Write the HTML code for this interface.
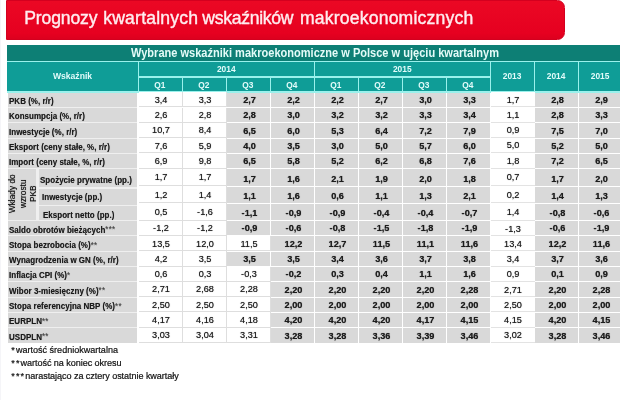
<!DOCTYPE html>
<html lang="pl"><head><meta charset="utf-8"><title>Prognozy kwartalnych wskaźników makroekonomicznych</title>
<style>
html,body{margin:0;padding:0;background:#fff}
body{width:620px;height:400px;position:relative;overflow:hidden;filter:blur(0.5px);font-family:"Liberation Sans",sans-serif;color:#1a1a1a}
div{position:absolute;box-sizing:border-box;white-space:nowrap}
.edge{left:0;top:0;width:1px;height:400px;background:#f5f5f8}
.banner{left:6px;top:-0.5px;width:559px;height:40px;background:linear-gradient(#eb0824,#e60020 85%,#dc001e);border-radius:0 7.5px 7.5px 0;border:1px solid #d4001f}
.title span{position:absolute;top:0;white-space:pre}
.title{left:24px;top:7.1px;font-size:17.6px;line-height:22px;color:#ffecef;letter-spacing:0.05px;-webkit-text-stroke:0.4px #ffecef}
.tt{left:7px;top:45px;width:613px;height:16px;background:#0d7f75}
.ttx{left:131px;top:45.9px;font-size:11.9px;line-height:15px;font-weight:bold;color:#e4fbf8;transform:scaleX(0.9285);transform-origin:0 50%}
.hb{left:7px;top:61px;width:613px;height:31.5px;background:#9af1ec}
.lb{left:7.5px;top:92.7px;width:129.5px;height:250px;background:#efefef}
.h{background:#0f9d97}
.t{line-height:12px;height:12px}
.ht{color:#e2fbfa;font-weight:bold;font-size:8.4px;text-align:center}
.l{background:#d9d9d9}
.lt{font-size:8.5px;letter-spacing:0.02px;transform:scaleX(0.94);transform-origin:0 50%;font-weight:bold;text-shadow:0 0 0.7px rgba(0,0,0,0.5)}
.lt b{font-weight:bold}
.lt i{font-style:normal;font-size:8.5px;position:relative;top:-0.3px;font-weight:normal;color:#4a4a4a;letter-spacing:0.3px}
.c{text-align:center;font-size:9.6px;transform:scaleX(0.955);color:#1c1c1c;text-shadow:0 0 0.8px rgba(0,0,0,0.7)}
.b{font-weight:bold}
.g{background:#d9d9d9}
.w{background:#fff;box-shadow:inset -1px -1px 0 #dedede}
.y{background:#fff;box-shadow:inset 0 -1px 0 #e3e3e3}
.fn{left:11.2px;font-size:9.05px;line-height:12px;color:#111;-webkit-text-stroke:0.2px #111}
.fn i{font-style:normal;display:inline-block;width:4.7px}
.rot{font-size:8.3px;line-height:10.5px;text-shadow:0 0 0.8px rgba(0,0,0,0.7);text-align:center;transform:rotate(-90deg);transform-origin:center center;white-space:normal;color:#151515}
</style></head><body>
<div class="edge"></div>
<div class="banner"></div>
<div class="title"><span style="left:0.3px;letter-spacing:-0.16px">Prognozy </span><span style="left:79.2px;letter-spacing:0.2px">kwartalnych </span><span style="left:178.3px;letter-spacing:-0.3px">wskaźników </span><span style="left:276px;letter-spacing:0.18px">makroekonomicznych</span></div>
<div class="tt"></div>
<div class="ttx">Wybrane wskaźniki makroekonomiczne w Polsce w ujęciu kwartalnym</div>
<div class="hb"></div>
<div class="lb"></div>

<div class="h" style="left:7.00px;top:61.80px;width:131.00px;height:29.60px"></div>
<div class="t ht" style="left:7.00px;top:70.02px;width:131.00px;font-size:8.6px">Wskaźnik</div>
<div class="h" style="left:139.00px;top:61.80px;width:175.00px;height:14.70px"></div>
<div class="t ht" style="left:138.50px;top:63.39px;width:175.50px;">2014</div>
<div class="h" style="left:315.00px;top:61.80px;width:175.00px;height:14.70px"></div>
<div class="t ht" style="left:314.50px;top:63.39px;width:175.50px;">2015</div>
<div class="h" style="left:139.00px;top:77.50px;width:43.00px;height:13.90px"></div>
<div class="t ht" style="left:138.00px;top:78.69px;width:43.50px;">Q1</div>
<div class="h" style="left:183.00px;top:77.50px;width:43.00px;height:13.90px"></div>
<div class="t ht" style="left:182.00px;top:78.69px;width:43.50px;">Q2</div>
<div class="h" style="left:227.00px;top:77.50px;width:43.00px;height:13.90px"></div>
<div class="t ht" style="left:226.00px;top:78.69px;width:43.50px;">Q3</div>
<div class="h" style="left:271.00px;top:77.50px;width:43.00px;height:13.90px"></div>
<div class="t ht" style="left:270.00px;top:78.69px;width:43.50px;">Q4</div>
<div class="h" style="left:315.00px;top:77.50px;width:43.00px;height:13.90px"></div>
<div class="t ht" style="left:314.00px;top:78.69px;width:43.50px;">Q1</div>
<div class="h" style="left:359.00px;top:77.50px;width:43.00px;height:13.90px"></div>
<div class="t ht" style="left:358.00px;top:78.69px;width:43.50px;">Q2</div>
<div class="h" style="left:403.00px;top:77.50px;width:43.00px;height:13.90px"></div>
<div class="t ht" style="left:402.00px;top:78.69px;width:43.50px;">Q3</div>
<div class="h" style="left:447.00px;top:77.50px;width:43.00px;height:13.90px"></div>
<div class="t ht" style="left:446.00px;top:78.69px;width:43.50px;">Q4</div>
<div class="h" style="left:491.00px;top:61.80px;width:43.00px;height:29.60px"></div>
<div class="t ht" style="left:490.30px;top:70.49px;width:43.50px;">2013</div>
<div class="h" style="left:535.00px;top:61.80px;width:43.00px;height:29.60px"></div>
<div class="t ht" style="left:534.30px;top:70.49px;width:43.50px;">2014</div>
<div class="h" style="left:579.00px;top:61.80px;width:43.00px;height:29.60px"></div>
<div class="t ht" style="left:578.30px;top:70.49px;width:43.50px;">2015</div>
<div class="l" style="left:7.50px;top:92.70px;width:129.50px;height:14.30px"></div>
<div class="t lt" style="left:8.60px;top:95.05px;width:128.00px;"><b>PKB</b> (%, r/r)</div>
<div class="w" style="left:139.00px;top:92.20px;width:44.00px;height:15.30px"></div>
<div class="t c" style="left:139.00px;top:93.72px;width:44.00px;">3,4</div>
<div class="w" style="left:183.00px;top:92.20px;width:44.00px;height:15.30px"></div>
<div class="t c" style="left:183.00px;top:93.72px;width:44.00px;">3,3</div>
<div class="g" style="left:227.00px;top:92.70px;width:43.00px;height:14.30px"></div>
<div class="t c b" style="left:227.70px;top:93.97px;width:43.00px;">2,7</div>
<div class="g" style="left:271.00px;top:92.70px;width:43.00px;height:14.30px"></div>
<div class="t c b" style="left:271.70px;top:93.97px;width:43.00px;">2,2</div>
<div class="g" style="left:315.00px;top:92.70px;width:43.00px;height:14.30px"></div>
<div class="t c b" style="left:315.70px;top:93.97px;width:43.00px;">2,2</div>
<div class="g" style="left:359.00px;top:92.70px;width:43.00px;height:14.30px"></div>
<div class="t c b" style="left:359.70px;top:93.97px;width:43.00px;">2,7</div>
<div class="g" style="left:403.00px;top:92.70px;width:43.00px;height:14.30px"></div>
<div class="t c b" style="left:403.70px;top:93.97px;width:43.00px;">3,0</div>
<div class="g" style="left:447.00px;top:92.70px;width:43.00px;height:14.30px"></div>
<div class="t c b" style="left:447.70px;top:93.97px;width:43.00px;">3,3</div>
<div class="y" style="left:490.70px;top:92.20px;width:44.30px;height:15.30px"></div>
<div class="t c" style="left:491.00px;top:93.52px;width:44.00px;">1,7</div>
<div class="g" style="left:535.00px;top:92.70px;width:43.00px;height:14.30px"></div>
<div class="t c b" style="left:535.70px;top:93.97px;width:43.00px;">2,8</div>
<div class="g" style="left:579.00px;top:92.70px;width:43.00px;height:14.30px"></div>
<div class="t c b" style="left:579.70px;top:93.97px;width:43.00px;">2,9</div>
<div class="l" style="left:7.50px;top:108.00px;width:129.50px;height:14.30px"></div>
<div class="t lt" style="left:8.60px;top:110.35px;width:128.00px;"><b>Konsumpcja</b> (%, r/r)</div>
<div class="w" style="left:139.00px;top:107.50px;width:44.00px;height:15.30px"></div>
<div class="t c" style="left:139.00px;top:109.02px;width:44.00px;">2,6</div>
<div class="w" style="left:183.00px;top:107.50px;width:44.00px;height:15.30px"></div>
<div class="t c" style="left:183.00px;top:109.02px;width:44.00px;">2,8</div>
<div class="g" style="left:227.00px;top:108.00px;width:43.00px;height:14.30px"></div>
<div class="t c b" style="left:227.70px;top:109.27px;width:43.00px;">2,8</div>
<div class="g" style="left:271.00px;top:108.00px;width:43.00px;height:14.30px"></div>
<div class="t c b" style="left:271.70px;top:109.27px;width:43.00px;">3,0</div>
<div class="g" style="left:315.00px;top:108.00px;width:43.00px;height:14.30px"></div>
<div class="t c b" style="left:315.70px;top:109.27px;width:43.00px;">3,2</div>
<div class="g" style="left:359.00px;top:108.00px;width:43.00px;height:14.30px"></div>
<div class="t c b" style="left:359.70px;top:109.27px;width:43.00px;">3,2</div>
<div class="g" style="left:403.00px;top:108.00px;width:43.00px;height:14.30px"></div>
<div class="t c b" style="left:403.70px;top:109.27px;width:43.00px;">3,3</div>
<div class="g" style="left:447.00px;top:108.00px;width:43.00px;height:14.30px"></div>
<div class="t c b" style="left:447.70px;top:109.27px;width:43.00px;">3,4</div>
<div class="y" style="left:490.70px;top:107.50px;width:44.30px;height:15.30px"></div>
<div class="t c" style="left:491.00px;top:108.82px;width:44.00px;">1,1</div>
<div class="g" style="left:535.00px;top:108.00px;width:43.00px;height:14.30px"></div>
<div class="t c b" style="left:535.70px;top:109.27px;width:43.00px;">2,8</div>
<div class="g" style="left:579.00px;top:108.00px;width:43.00px;height:14.30px"></div>
<div class="t c b" style="left:579.70px;top:109.27px;width:43.00px;">3,3</div>
<div class="l" style="left:7.50px;top:123.30px;width:129.50px;height:14.30px"></div>
<div class="t lt" style="left:8.60px;top:125.65px;width:128.00px;"><b>Inwestycje</b> (%, r/r)</div>
<div class="w" style="left:139.00px;top:122.80px;width:44.00px;height:15.30px"></div>
<div class="t c" style="left:139.00px;top:124.32px;width:44.00px;">10,7</div>
<div class="w" style="left:183.00px;top:122.80px;width:44.00px;height:15.30px"></div>
<div class="t c" style="left:183.00px;top:124.32px;width:44.00px;">8,4</div>
<div class="g" style="left:227.00px;top:123.30px;width:43.00px;height:14.30px"></div>
<div class="t c b" style="left:227.70px;top:124.57px;width:43.00px;">6,5</div>
<div class="g" style="left:271.00px;top:123.30px;width:43.00px;height:14.30px"></div>
<div class="t c b" style="left:271.70px;top:124.57px;width:43.00px;">6,0</div>
<div class="g" style="left:315.00px;top:123.30px;width:43.00px;height:14.30px"></div>
<div class="t c b" style="left:315.70px;top:124.57px;width:43.00px;">5,3</div>
<div class="g" style="left:359.00px;top:123.30px;width:43.00px;height:14.30px"></div>
<div class="t c b" style="left:359.70px;top:124.57px;width:43.00px;">6,4</div>
<div class="g" style="left:403.00px;top:123.30px;width:43.00px;height:14.30px"></div>
<div class="t c b" style="left:403.70px;top:124.57px;width:43.00px;">7,2</div>
<div class="g" style="left:447.00px;top:123.30px;width:43.00px;height:14.30px"></div>
<div class="t c b" style="left:447.70px;top:124.57px;width:43.00px;">7,9</div>
<div class="y" style="left:490.70px;top:122.80px;width:44.30px;height:15.30px"></div>
<div class="t c" style="left:491.00px;top:124.12px;width:44.00px;">0,9</div>
<div class="g" style="left:535.00px;top:123.30px;width:43.00px;height:14.30px"></div>
<div class="t c b" style="left:535.70px;top:124.57px;width:43.00px;">7,5</div>
<div class="g" style="left:579.00px;top:123.30px;width:43.00px;height:14.30px"></div>
<div class="t c b" style="left:579.70px;top:124.57px;width:43.00px;">7,0</div>
<div class="l" style="left:7.50px;top:138.60px;width:129.50px;height:14.30px"></div>
<div class="t lt" style="left:8.60px;top:140.95px;width:128.00px;"><b>Eksport</b> (ceny stałe, %, r/r)</div>
<div class="w" style="left:139.00px;top:138.10px;width:44.00px;height:15.30px"></div>
<div class="t c" style="left:139.00px;top:139.62px;width:44.00px;">7,6</div>
<div class="w" style="left:183.00px;top:138.10px;width:44.00px;height:15.30px"></div>
<div class="t c" style="left:183.00px;top:139.62px;width:44.00px;">5,9</div>
<div class="g" style="left:227.00px;top:138.60px;width:43.00px;height:14.30px"></div>
<div class="t c b" style="left:227.70px;top:139.87px;width:43.00px;">4,0</div>
<div class="g" style="left:271.00px;top:138.60px;width:43.00px;height:14.30px"></div>
<div class="t c b" style="left:271.70px;top:139.87px;width:43.00px;">3,5</div>
<div class="g" style="left:315.00px;top:138.60px;width:43.00px;height:14.30px"></div>
<div class="t c b" style="left:315.70px;top:139.87px;width:43.00px;">3,0</div>
<div class="g" style="left:359.00px;top:138.60px;width:43.00px;height:14.30px"></div>
<div class="t c b" style="left:359.70px;top:139.87px;width:43.00px;">5,0</div>
<div class="g" style="left:403.00px;top:138.60px;width:43.00px;height:14.30px"></div>
<div class="t c b" style="left:403.70px;top:139.87px;width:43.00px;">5,7</div>
<div class="g" style="left:447.00px;top:138.60px;width:43.00px;height:14.30px"></div>
<div class="t c b" style="left:447.70px;top:139.87px;width:43.00px;">6,0</div>
<div class="y" style="left:490.70px;top:138.10px;width:44.30px;height:15.30px"></div>
<div class="t c" style="left:491.00px;top:139.42px;width:44.00px;">5,0</div>
<div class="g" style="left:535.00px;top:138.60px;width:43.00px;height:14.30px"></div>
<div class="t c b" style="left:535.70px;top:139.87px;width:43.00px;">5,2</div>
<div class="g" style="left:579.00px;top:138.60px;width:43.00px;height:14.30px"></div>
<div class="t c b" style="left:579.70px;top:139.87px;width:43.00px;">5,0</div>
<div class="l" style="left:7.50px;top:153.90px;width:129.50px;height:14.30px"></div>
<div class="t lt" style="left:8.60px;top:156.25px;width:128.00px;"><b>Import</b> (ceny stałe, %, r/r)</div>
<div class="w" style="left:139.00px;top:153.40px;width:44.00px;height:15.30px"></div>
<div class="t c" style="left:139.00px;top:154.92px;width:44.00px;">6,9</div>
<div class="w" style="left:183.00px;top:153.40px;width:44.00px;height:15.30px"></div>
<div class="t c" style="left:183.00px;top:154.92px;width:44.00px;">9,8</div>
<div class="g" style="left:227.00px;top:153.90px;width:43.00px;height:14.30px"></div>
<div class="t c b" style="left:227.70px;top:155.17px;width:43.00px;">6,5</div>
<div class="g" style="left:271.00px;top:153.90px;width:43.00px;height:14.30px"></div>
<div class="t c b" style="left:271.70px;top:155.17px;width:43.00px;">5,8</div>
<div class="g" style="left:315.00px;top:153.90px;width:43.00px;height:14.30px"></div>
<div class="t c b" style="left:315.70px;top:155.17px;width:43.00px;">5,2</div>
<div class="g" style="left:359.00px;top:153.90px;width:43.00px;height:14.30px"></div>
<div class="t c b" style="left:359.70px;top:155.17px;width:43.00px;">6,2</div>
<div class="g" style="left:403.00px;top:153.90px;width:43.00px;height:14.30px"></div>
<div class="t c b" style="left:403.70px;top:155.17px;width:43.00px;">6,8</div>
<div class="g" style="left:447.00px;top:153.90px;width:43.00px;height:14.30px"></div>
<div class="t c b" style="left:447.70px;top:155.17px;width:43.00px;">7,6</div>
<div class="y" style="left:490.70px;top:153.40px;width:44.30px;height:15.30px"></div>
<div class="t c" style="left:491.00px;top:154.72px;width:44.00px;">1,8</div>
<div class="g" style="left:535.00px;top:153.90px;width:43.00px;height:14.30px"></div>
<div class="t c b" style="left:535.70px;top:155.17px;width:43.00px;">7,2</div>
<div class="g" style="left:579.00px;top:153.90px;width:43.00px;height:14.30px"></div>
<div class="t c b" style="left:579.70px;top:155.17px;width:43.00px;">6,5</div>
<div class="l" style="left:39.20px;top:168.90px;width:97.80px;height:18.50px"></div>
<div class="t lt" style="left:40.30px;top:173.57px;width:99.00px;"><b>Spożycie prywatne</b> (pp.)</div>
<div class="w" style="left:139.00px;top:168.70px;width:44.00px;height:17.33px"></div>
<div class="t c" style="left:139.00px;top:171.24px;width:44.00px;">1,7</div>
<div class="w" style="left:183.00px;top:168.70px;width:44.00px;height:17.33px"></div>
<div class="t c" style="left:183.00px;top:171.24px;width:44.00px;">1,7</div>
<div class="g" style="left:227.00px;top:169.20px;width:43.00px;height:16.33px"></div>
<div class="t c b" style="left:227.70px;top:172.50px;width:43.00px;">1,7</div>
<div class="g" style="left:271.00px;top:169.20px;width:43.00px;height:16.33px"></div>
<div class="t c b" style="left:271.70px;top:172.50px;width:43.00px;">1,6</div>
<div class="g" style="left:315.00px;top:169.20px;width:43.00px;height:16.33px"></div>
<div class="t c b" style="left:315.70px;top:172.50px;width:43.00px;">2,1</div>
<div class="g" style="left:359.00px;top:169.20px;width:43.00px;height:16.33px"></div>
<div class="t c b" style="left:359.70px;top:172.50px;width:43.00px;">1,9</div>
<div class="g" style="left:403.00px;top:169.20px;width:43.00px;height:16.33px"></div>
<div class="t c b" style="left:403.70px;top:172.50px;width:43.00px;">2,0</div>
<div class="g" style="left:447.00px;top:169.20px;width:43.00px;height:16.33px"></div>
<div class="t c b" style="left:447.70px;top:172.50px;width:43.00px;">1,8</div>
<div class="y" style="left:490.70px;top:168.70px;width:44.30px;height:17.33px"></div>
<div class="t c" style="left:491.00px;top:171.04px;width:44.00px;">0,7</div>
<div class="g" style="left:535.00px;top:169.20px;width:43.00px;height:16.33px"></div>
<div class="t c b" style="left:535.70px;top:172.50px;width:43.00px;">1,7</div>
<div class="g" style="left:579.00px;top:169.20px;width:43.00px;height:16.33px"></div>
<div class="t c b" style="left:579.70px;top:172.50px;width:43.00px;">2,0</div>
<div class="l" style="left:39.20px;top:188.60px;width:97.80px;height:16.60px"></div>
<div class="t lt" style="left:41.60px;top:191.40px;width:99.00px;"><b>Inwestycje</b> (pp.)</div>
<div class="w" style="left:139.00px;top:186.03px;width:44.00px;height:17.33px"></div>
<div class="t c" style="left:139.00px;top:188.57px;width:44.00px;">1,2</div>
<div class="w" style="left:183.00px;top:186.03px;width:44.00px;height:17.33px"></div>
<div class="t c" style="left:183.00px;top:188.57px;width:44.00px;">1,4</div>
<div class="g" style="left:227.00px;top:186.53px;width:43.00px;height:16.33px"></div>
<div class="t c b" style="left:227.70px;top:189.83px;width:43.00px;">1,1</div>
<div class="g" style="left:271.00px;top:186.53px;width:43.00px;height:16.33px"></div>
<div class="t c b" style="left:271.70px;top:189.83px;width:43.00px;">1,6</div>
<div class="g" style="left:315.00px;top:186.53px;width:43.00px;height:16.33px"></div>
<div class="t c b" style="left:315.70px;top:189.83px;width:43.00px;">0,6</div>
<div class="g" style="left:359.00px;top:186.53px;width:43.00px;height:16.33px"></div>
<div class="t c b" style="left:359.70px;top:189.83px;width:43.00px;">1,1</div>
<div class="g" style="left:403.00px;top:186.53px;width:43.00px;height:16.33px"></div>
<div class="t c b" style="left:403.70px;top:189.83px;width:43.00px;">1,3</div>
<div class="g" style="left:447.00px;top:186.53px;width:43.00px;height:16.33px"></div>
<div class="t c b" style="left:447.70px;top:189.83px;width:43.00px;">2,1</div>
<div class="y" style="left:490.70px;top:186.03px;width:44.30px;height:17.33px"></div>
<div class="t c" style="left:491.00px;top:188.87px;width:44.00px;">0,2</div>
<div class="g" style="left:535.00px;top:186.53px;width:43.00px;height:16.33px"></div>
<div class="t c b" style="left:535.70px;top:189.83px;width:43.00px;">1,4</div>
<div class="g" style="left:579.00px;top:186.53px;width:43.00px;height:16.33px"></div>
<div class="t c b" style="left:579.70px;top:189.83px;width:43.00px;">1,3</div>
<div class="l" style="left:39.20px;top:206.40px;width:97.80px;height:13.60px"></div>
<div class="t lt" style="left:42.60px;top:209.23px;width:99.00px;"><b>Eksport netto</b> (pp.)</div>
<div class="w" style="left:139.00px;top:203.36px;width:44.00px;height:17.33px"></div>
<div class="t c" style="left:139.00px;top:205.90px;width:44.00px;">0,5</div>
<div class="w" style="left:183.00px;top:203.36px;width:44.00px;height:17.33px"></div>
<div class="t c" style="left:183.00px;top:205.90px;width:44.00px;">-1,6</div>
<div class="g" style="left:227.00px;top:203.86px;width:43.00px;height:16.33px"></div>
<div class="t c b" style="left:227.70px;top:207.16px;width:43.00px;">-1,1</div>
<div class="g" style="left:271.00px;top:203.86px;width:43.00px;height:16.33px"></div>
<div class="t c b" style="left:271.70px;top:207.16px;width:43.00px;">-0,9</div>
<div class="g" style="left:315.00px;top:203.86px;width:43.00px;height:16.33px"></div>
<div class="t c b" style="left:315.70px;top:207.16px;width:43.00px;">-0,9</div>
<div class="g" style="left:359.00px;top:203.86px;width:43.00px;height:16.33px"></div>
<div class="t c b" style="left:359.70px;top:207.16px;width:43.00px;">-0,4</div>
<div class="g" style="left:403.00px;top:203.86px;width:43.00px;height:16.33px"></div>
<div class="t c b" style="left:403.70px;top:207.16px;width:43.00px;">-0,4</div>
<div class="g" style="left:447.00px;top:203.86px;width:43.00px;height:16.33px"></div>
<div class="t c b" style="left:447.70px;top:207.16px;width:43.00px;">-0,7</div>
<div class="y" style="left:490.70px;top:203.36px;width:44.30px;height:17.33px"></div>
<div class="t c" style="left:491.00px;top:206.20px;width:44.00px;">1,4</div>
<div class="g" style="left:535.00px;top:203.86px;width:43.00px;height:16.33px"></div>
<div class="t c b" style="left:535.70px;top:207.16px;width:43.00px;">-0,8</div>
<div class="g" style="left:579.00px;top:203.86px;width:43.00px;height:16.33px"></div>
<div class="t c b" style="left:579.70px;top:207.16px;width:43.00px;">-0,6</div>
<div class="l" style="left:7.50px;top:221.19px;width:129.50px;height:14.30px"></div>
<div class="t lt" style="left:8.60px;top:223.54px;width:128.00px;"><b>Saldo obrotów bieżących</b><i>***</i></div>
<div class="w" style="left:139.00px;top:220.69px;width:44.00px;height:15.30px"></div>
<div class="t c" style="left:139.00px;top:222.21px;width:44.00px;">-1,2</div>
<div class="w" style="left:183.00px;top:220.69px;width:44.00px;height:15.30px"></div>
<div class="t c" style="left:183.00px;top:222.21px;width:44.00px;">-1,2</div>
<div class="g" style="left:227.00px;top:221.19px;width:43.00px;height:14.30px"></div>
<div class="t c b" style="left:227.70px;top:222.46px;width:43.00px;">-0,9</div>
<div class="g" style="left:271.00px;top:221.19px;width:43.00px;height:14.30px"></div>
<div class="t c b" style="left:271.70px;top:222.46px;width:43.00px;">-0,6</div>
<div class="g" style="left:315.00px;top:221.19px;width:43.00px;height:14.30px"></div>
<div class="t c b" style="left:315.70px;top:222.46px;width:43.00px;">-0,8</div>
<div class="g" style="left:359.00px;top:221.19px;width:43.00px;height:14.30px"></div>
<div class="t c b" style="left:359.70px;top:222.46px;width:43.00px;">-1,5</div>
<div class="g" style="left:403.00px;top:221.19px;width:43.00px;height:14.30px"></div>
<div class="t c b" style="left:403.70px;top:222.46px;width:43.00px;">-1,8</div>
<div class="g" style="left:447.00px;top:221.19px;width:43.00px;height:14.30px"></div>
<div class="t c b" style="left:447.70px;top:222.46px;width:43.00px;">-1,9</div>
<div class="y" style="left:490.70px;top:220.69px;width:44.30px;height:15.30px"></div>
<div class="t c" style="left:491.00px;top:222.51px;width:44.00px;">-1,3</div>
<div class="g" style="left:535.00px;top:221.19px;width:43.00px;height:14.30px"></div>
<div class="t c b" style="left:535.70px;top:222.46px;width:43.00px;">-0,6</div>
<div class="g" style="left:579.00px;top:221.19px;width:43.00px;height:14.30px"></div>
<div class="t c b" style="left:579.70px;top:222.46px;width:43.00px;">-1,9</div>
<div class="l" style="left:7.50px;top:236.49px;width:129.50px;height:14.30px"></div>
<div class="t lt" style="left:8.60px;top:238.84px;width:128.00px;"><b>Stopa bezrobocia</b> (%)<i>**</i></div>
<div class="w" style="left:139.00px;top:235.99px;width:44.00px;height:15.30px"></div>
<div class="t c" style="left:139.00px;top:237.51px;width:44.00px;">13,5</div>
<div class="w" style="left:183.00px;top:235.99px;width:44.00px;height:15.30px"></div>
<div class="t c" style="left:183.00px;top:237.51px;width:44.00px;">12,0</div>
<div class="w" style="left:227.00px;top:235.99px;width:44.00px;height:15.30px"></div>
<div class="t c" style="left:227.00px;top:237.51px;width:44.00px;">11,5</div>
<div class="g" style="left:271.00px;top:236.49px;width:43.00px;height:14.30px"></div>
<div class="t c b" style="left:271.70px;top:237.76px;width:43.00px;">12,2</div>
<div class="g" style="left:315.00px;top:236.49px;width:43.00px;height:14.30px"></div>
<div class="t c b" style="left:315.70px;top:237.76px;width:43.00px;">12,7</div>
<div class="g" style="left:359.00px;top:236.49px;width:43.00px;height:14.30px"></div>
<div class="t c b" style="left:359.70px;top:237.76px;width:43.00px;">11,5</div>
<div class="g" style="left:403.00px;top:236.49px;width:43.00px;height:14.30px"></div>
<div class="t c b" style="left:403.70px;top:237.76px;width:43.00px;">11,1</div>
<div class="g" style="left:447.00px;top:236.49px;width:43.00px;height:14.30px"></div>
<div class="t c b" style="left:447.70px;top:237.76px;width:43.00px;">11,6</div>
<div class="y" style="left:490.70px;top:235.99px;width:44.30px;height:15.30px"></div>
<div class="t c" style="left:491.00px;top:237.81px;width:44.00px;">13,4</div>
<div class="g" style="left:535.00px;top:236.49px;width:43.00px;height:14.30px"></div>
<div class="t c b" style="left:535.70px;top:237.76px;width:43.00px;">12,2</div>
<div class="g" style="left:579.00px;top:236.49px;width:43.00px;height:14.30px"></div>
<div class="t c b" style="left:579.70px;top:237.76px;width:43.00px;">11,6</div>
<div class="l" style="left:7.50px;top:251.79px;width:129.50px;height:14.30px"></div>
<div class="t lt" style="left:8.60px;top:254.14px;width:128.00px;"><b>Wynagrodzenia w GN</b> (%, r/r)</div>
<div class="w" style="left:139.00px;top:251.29px;width:44.00px;height:15.30px"></div>
<div class="t c" style="left:139.00px;top:252.81px;width:44.00px;">4,2</div>
<div class="w" style="left:183.00px;top:251.29px;width:44.00px;height:15.30px"></div>
<div class="t c" style="left:183.00px;top:252.81px;width:44.00px;">3,5</div>
<div class="g" style="left:227.00px;top:251.79px;width:43.00px;height:14.30px"></div>
<div class="t c b" style="left:227.70px;top:253.06px;width:43.00px;">3,5</div>
<div class="g" style="left:271.00px;top:251.79px;width:43.00px;height:14.30px"></div>
<div class="t c b" style="left:271.70px;top:253.06px;width:43.00px;">3,5</div>
<div class="g" style="left:315.00px;top:251.79px;width:43.00px;height:14.30px"></div>
<div class="t c b" style="left:315.70px;top:253.06px;width:43.00px;">3,4</div>
<div class="g" style="left:359.00px;top:251.79px;width:43.00px;height:14.30px"></div>
<div class="t c b" style="left:359.70px;top:253.06px;width:43.00px;">3,6</div>
<div class="g" style="left:403.00px;top:251.79px;width:43.00px;height:14.30px"></div>
<div class="t c b" style="left:403.70px;top:253.06px;width:43.00px;">3,7</div>
<div class="g" style="left:447.00px;top:251.79px;width:43.00px;height:14.30px"></div>
<div class="t c b" style="left:447.70px;top:253.06px;width:43.00px;">3,8</div>
<div class="y" style="left:490.70px;top:251.29px;width:44.30px;height:15.30px"></div>
<div class="t c" style="left:491.00px;top:253.11px;width:44.00px;">3,4</div>
<div class="g" style="left:535.00px;top:251.79px;width:43.00px;height:14.30px"></div>
<div class="t c b" style="left:535.70px;top:253.06px;width:43.00px;">3,7</div>
<div class="g" style="left:579.00px;top:251.79px;width:43.00px;height:14.30px"></div>
<div class="t c b" style="left:579.70px;top:253.06px;width:43.00px;">3,6</div>
<div class="l" style="left:7.50px;top:267.09px;width:129.50px;height:14.30px"></div>
<div class="t lt" style="left:8.60px;top:269.44px;width:128.00px;"><b>Inflacja CPI</b> (%)<i>*</i></div>
<div class="w" style="left:139.00px;top:266.59px;width:44.00px;height:15.30px"></div>
<div class="t c" style="left:139.00px;top:268.11px;width:44.00px;">0,6</div>
<div class="w" style="left:183.00px;top:266.59px;width:44.00px;height:15.30px"></div>
<div class="t c" style="left:183.00px;top:268.11px;width:44.00px;">0,3</div>
<div class="w" style="left:227.00px;top:266.59px;width:44.00px;height:15.30px"></div>
<div class="t c" style="left:227.00px;top:268.11px;width:44.00px;">-0,3</div>
<div class="g" style="left:271.00px;top:267.09px;width:43.00px;height:14.30px"></div>
<div class="t c b" style="left:271.70px;top:268.36px;width:43.00px;">-0,2</div>
<div class="g" style="left:315.00px;top:267.09px;width:43.00px;height:14.30px"></div>
<div class="t c b" style="left:315.70px;top:268.36px;width:43.00px;">0,3</div>
<div class="g" style="left:359.00px;top:267.09px;width:43.00px;height:14.30px"></div>
<div class="t c b" style="left:359.70px;top:268.36px;width:43.00px;">0,4</div>
<div class="g" style="left:403.00px;top:267.09px;width:43.00px;height:14.30px"></div>
<div class="t c b" style="left:403.70px;top:268.36px;width:43.00px;">1,1</div>
<div class="g" style="left:447.00px;top:267.09px;width:43.00px;height:14.30px"></div>
<div class="t c b" style="left:447.70px;top:268.36px;width:43.00px;">1,6</div>
<div class="y" style="left:490.70px;top:266.59px;width:44.30px;height:15.30px"></div>
<div class="t c" style="left:491.00px;top:268.41px;width:44.00px;">0,9</div>
<div class="g" style="left:535.00px;top:267.09px;width:43.00px;height:14.30px"></div>
<div class="t c b" style="left:535.70px;top:268.36px;width:43.00px;">0,1</div>
<div class="g" style="left:579.00px;top:267.09px;width:43.00px;height:14.30px"></div>
<div class="t c b" style="left:579.70px;top:268.36px;width:43.00px;">0,9</div>
<div class="l" style="left:7.50px;top:282.39px;width:129.50px;height:14.30px"></div>
<div class="t lt" style="left:8.60px;top:284.74px;width:128.00px;"><b>Wibor 3-miesięczny</b> (%)<i>**</i></div>
<div class="w" style="left:139.00px;top:281.89px;width:44.00px;height:15.30px"></div>
<div class="t c" style="left:139.00px;top:283.41px;width:44.00px;">2,71</div>
<div class="w" style="left:183.00px;top:281.89px;width:44.00px;height:15.30px"></div>
<div class="t c" style="left:183.00px;top:283.41px;width:44.00px;">2,68</div>
<div class="w" style="left:227.00px;top:281.89px;width:44.00px;height:15.30px"></div>
<div class="t c" style="left:227.00px;top:283.41px;width:44.00px;">2,28</div>
<div class="g" style="left:271.00px;top:282.39px;width:43.00px;height:14.30px"></div>
<div class="t c b" style="left:271.70px;top:283.66px;width:43.00px;">2,20</div>
<div class="g" style="left:315.00px;top:282.39px;width:43.00px;height:14.30px"></div>
<div class="t c b" style="left:315.70px;top:283.66px;width:43.00px;">2,20</div>
<div class="g" style="left:359.00px;top:282.39px;width:43.00px;height:14.30px"></div>
<div class="t c b" style="left:359.70px;top:283.66px;width:43.00px;">2,20</div>
<div class="g" style="left:403.00px;top:282.39px;width:43.00px;height:14.30px"></div>
<div class="t c b" style="left:403.70px;top:283.66px;width:43.00px;">2,20</div>
<div class="g" style="left:447.00px;top:282.39px;width:43.00px;height:14.30px"></div>
<div class="t c b" style="left:447.70px;top:283.66px;width:43.00px;">2,28</div>
<div class="y" style="left:490.70px;top:281.89px;width:44.30px;height:15.30px"></div>
<div class="t c" style="left:491.00px;top:283.71px;width:44.00px;">2,71</div>
<div class="g" style="left:535.00px;top:282.39px;width:43.00px;height:14.30px"></div>
<div class="t c b" style="left:535.70px;top:283.66px;width:43.00px;">2,20</div>
<div class="g" style="left:579.00px;top:282.39px;width:43.00px;height:14.30px"></div>
<div class="t c b" style="left:579.70px;top:283.66px;width:43.00px;">2,28</div>
<div class="l" style="left:7.50px;top:297.69px;width:129.50px;height:14.30px"></div>
<div class="t lt" style="left:8.60px;top:300.04px;width:128.00px;"><b>Stopa referencyjna NBP</b> (%)<i>**</i></div>
<div class="w" style="left:139.00px;top:297.19px;width:44.00px;height:15.30px"></div>
<div class="t c" style="left:139.00px;top:298.71px;width:44.00px;">2,50</div>
<div class="w" style="left:183.00px;top:297.19px;width:44.00px;height:15.30px"></div>
<div class="t c" style="left:183.00px;top:298.71px;width:44.00px;">2,50</div>
<div class="w" style="left:227.00px;top:297.19px;width:44.00px;height:15.30px"></div>
<div class="t c" style="left:227.00px;top:298.71px;width:44.00px;">2,50</div>
<div class="g" style="left:271.00px;top:297.69px;width:43.00px;height:14.30px"></div>
<div class="t c b" style="left:271.70px;top:298.96px;width:43.00px;">2,00</div>
<div class="g" style="left:315.00px;top:297.69px;width:43.00px;height:14.30px"></div>
<div class="t c b" style="left:315.70px;top:298.96px;width:43.00px;">2,00</div>
<div class="g" style="left:359.00px;top:297.69px;width:43.00px;height:14.30px"></div>
<div class="t c b" style="left:359.70px;top:298.96px;width:43.00px;">2,00</div>
<div class="g" style="left:403.00px;top:297.69px;width:43.00px;height:14.30px"></div>
<div class="t c b" style="left:403.70px;top:298.96px;width:43.00px;">2,00</div>
<div class="g" style="left:447.00px;top:297.69px;width:43.00px;height:14.30px"></div>
<div class="t c b" style="left:447.70px;top:298.96px;width:43.00px;">2,00</div>
<div class="y" style="left:490.70px;top:297.19px;width:44.30px;height:15.30px"></div>
<div class="t c" style="left:491.00px;top:298.51px;width:44.00px;">2,50</div>
<div class="g" style="left:535.00px;top:297.69px;width:43.00px;height:14.30px"></div>
<div class="t c b" style="left:535.70px;top:298.96px;width:43.00px;">2,00</div>
<div class="g" style="left:579.00px;top:297.69px;width:43.00px;height:14.30px"></div>
<div class="t c b" style="left:579.70px;top:298.96px;width:43.00px;">2,00</div>
<div class="l" style="left:7.50px;top:312.99px;width:129.50px;height:14.30px"></div>
<div class="t lt" style="left:8.60px;top:315.34px;width:128.00px;"><b>EURPLN</b><i>**</i></div>
<div class="w" style="left:139.00px;top:312.49px;width:44.00px;height:15.30px"></div>
<div class="t c" style="left:139.00px;top:314.01px;width:44.00px;">4,17</div>
<div class="w" style="left:183.00px;top:312.49px;width:44.00px;height:15.30px"></div>
<div class="t c" style="left:183.00px;top:314.01px;width:44.00px;">4,16</div>
<div class="w" style="left:227.00px;top:312.49px;width:44.00px;height:15.30px"></div>
<div class="t c" style="left:227.00px;top:314.01px;width:44.00px;">4,18</div>
<div class="g" style="left:271.00px;top:312.99px;width:43.00px;height:14.30px"></div>
<div class="t c b" style="left:271.70px;top:314.26px;width:43.00px;">4,20</div>
<div class="g" style="left:315.00px;top:312.99px;width:43.00px;height:14.30px"></div>
<div class="t c b" style="left:315.70px;top:314.26px;width:43.00px;">4,20</div>
<div class="g" style="left:359.00px;top:312.99px;width:43.00px;height:14.30px"></div>
<div class="t c b" style="left:359.70px;top:314.26px;width:43.00px;">4,20</div>
<div class="g" style="left:403.00px;top:312.99px;width:43.00px;height:14.30px"></div>
<div class="t c b" style="left:403.70px;top:314.26px;width:43.00px;">4,17</div>
<div class="g" style="left:447.00px;top:312.99px;width:43.00px;height:14.30px"></div>
<div class="t c b" style="left:447.70px;top:314.26px;width:43.00px;">4,15</div>
<div class="y" style="left:490.70px;top:312.49px;width:44.30px;height:15.30px"></div>
<div class="t c" style="left:491.00px;top:313.81px;width:44.00px;">4,15</div>
<div class="g" style="left:535.00px;top:312.99px;width:43.00px;height:14.30px"></div>
<div class="t c b" style="left:535.70px;top:314.26px;width:43.00px;">4,20</div>
<div class="g" style="left:579.00px;top:312.99px;width:43.00px;height:14.30px"></div>
<div class="t c b" style="left:579.70px;top:314.26px;width:43.00px;">4,15</div>
<div class="l" style="left:7.50px;top:328.29px;width:129.50px;height:14.30px"></div>
<div class="t lt" style="left:8.60px;top:330.64px;width:128.00px;"><b>USDPLN</b><i>**</i></div>
<div class="w" style="left:139.00px;top:327.79px;width:44.00px;height:15.30px"></div>
<div class="t c" style="left:139.00px;top:329.31px;width:44.00px;">3,03</div>
<div class="w" style="left:183.00px;top:327.79px;width:44.00px;height:15.30px"></div>
<div class="t c" style="left:183.00px;top:329.31px;width:44.00px;">3,04</div>
<div class="w" style="left:227.00px;top:327.79px;width:44.00px;height:15.30px"></div>
<div class="t c" style="left:227.00px;top:329.31px;width:44.00px;">3,31</div>
<div class="g" style="left:271.00px;top:328.29px;width:43.00px;height:14.30px"></div>
<div class="t c b" style="left:271.70px;top:329.56px;width:43.00px;">3,28</div>
<div class="g" style="left:315.00px;top:328.29px;width:43.00px;height:14.30px"></div>
<div class="t c b" style="left:315.70px;top:329.56px;width:43.00px;">3,28</div>
<div class="g" style="left:359.00px;top:328.29px;width:43.00px;height:14.30px"></div>
<div class="t c b" style="left:359.70px;top:329.56px;width:43.00px;">3,36</div>
<div class="g" style="left:403.00px;top:328.29px;width:43.00px;height:14.30px"></div>
<div class="t c b" style="left:403.70px;top:329.56px;width:43.00px;">3,39</div>
<div class="g" style="left:447.00px;top:328.29px;width:43.00px;height:14.30px"></div>
<div class="t c b" style="left:447.70px;top:329.56px;width:43.00px;">3,46</div>
<div class="y" style="left:490.70px;top:327.79px;width:44.30px;height:15.30px"></div>
<div class="t c" style="left:491.00px;top:329.11px;width:44.00px;">3,02</div>
<div class="g" style="left:535.00px;top:328.29px;width:43.00px;height:14.30px"></div>
<div class="t c b" style="left:535.70px;top:329.56px;width:43.00px;">3,28</div>
<div class="g" style="left:579.00px;top:328.29px;width:43.00px;height:14.30px"></div>
<div class="t c b" style="left:579.70px;top:329.56px;width:43.00px;">3,46</div>
<div class="l" style="left:7.50px;top:168.90px;width:28.90px;height:51.29px"></div>
<div class="rot" style="left:-2.59px;top:178.34px;width:50.99px;height:31.5px">Wkłady do<br>wzrostu<br>PKB</div>
<div class="fn" style="top:343.50px;letter-spacing:0px"><i>*</i>wartość średniokwartalna</div>
<div class="fn" style="top:356.70px;letter-spacing:-0.05px"><i>*</i><i>*</i>wartość na koniec okresu</div>
<div class="fn" style="top:369.90px;letter-spacing:-0.05px"><i>*</i><i>*</i><i>*</i>narastająco za cztery ostatnie kwartały</div>
</body></html>
